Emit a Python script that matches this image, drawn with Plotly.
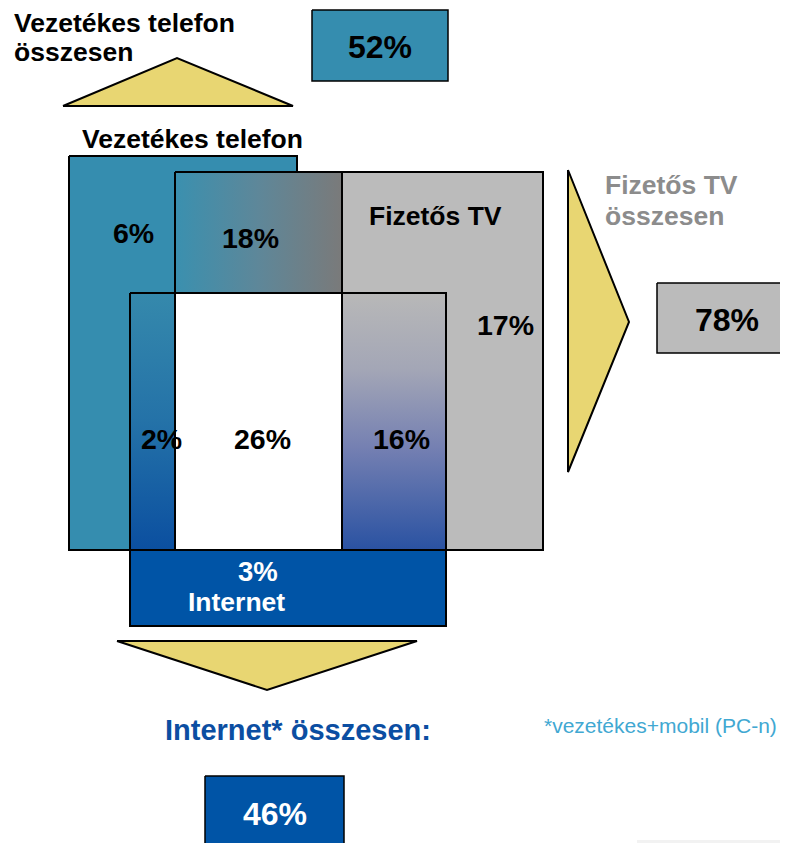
import plotly.graph_objects as go

# --- data: shares of households (%) ---
segment_values = [6, 18, 17, 2, 26, 16, 3]   # phone only, phone+TV, TV only, phone+net, all three, TV+net, net only
total_values = [52, 78, 46]                    # phone total, pay-TV total, internet total
group_names = ["Vezetékes telefon", "Fizetős TV", "Internet"]
total_titles = ["Vezetékes telefon", "összesen", "Fizetős TV", "összesen", "Internet* összesen:"]
footnote = "*vezetékes+mobil (PC-n)"

FONT = "Liberation Sans, Arial, sans-serif"
TEAL = "#358DAF"
GREY = "#BBBBBB"
BLUE = "#0054A6"
YELLOW = "#E8D672"

fig = go.Figure()


def poly(xs, ys, fill, line_w=2, gradient=None):
    kw = dict(x=xs, y=ys, mode="lines", fill="toself",
              line=dict(color="black", width=line_w),
              hoverinfo="skip", showlegend=False)
    if gradient is not None:
        kw["fillgradient"] = gradient
    else:
        kw["fillcolor"] = fill
    fig.add_trace(go.Scatter(**kw))


def rect(x0, y0, x1, y1, fill, **kw):
    poly([x0, x1, x1, x0, x0], [y0, y0, y1, y1, y0], fill, **kw)


# big rectangles
rect(69, 156, 297, 550, TEAL)           # phone
rect(175, 172, 543, 550, GREY)          # pay TV
# phone + TV overlap (horizontal fade)
rect(175, 172, 342, 293, None,
     gradient=dict(type="horizontal", start=175, stop=342,
                   colorscale=[[0, "#3A90AF"], [0.5, "#5E8799"], [1, "#7A7A7A"]]))
# internet pieces
rect(130, 293, 175, 550, None,
     gradient=dict(type="vertical", start=293, stop=550,
                   colorscale=[[0, "#3589AC"], [0.5, "#2472A8"], [1, "#0B4FA0"]]))
rect(175, 293, 342, 550, "white")
rect(342, 293, 446, 550, None,
     gradient=dict(type="vertical", start=293, stop=550,
                   colorscale=[[0, "#B8B8B8"], [0.3, "#A3A6B6"], [0.6, "#7580B2"], [1, "#2A52A2"]]))
rect(130, 550, 446, 626, BLUE)

# arrows
poly([63, 177, 293, 63], [106, 58, 106, 106], YELLOW)
poly([568, 629, 568, 568], [170, 322, 472, 170], YELLOW)
poly([117, 417, 267, 117], [641, 641, 690, 641], YELLOW)

# total boxes
rect(312, 10, 448, 81, TEAL, line_w=1.5)
rect(657, 283, 800, 353, GREY, line_w=1.5)
rect(205, 776, 344, 860, BLUE, line_w=1.5)
rect(637, 840, 800, 860, "#F2F2F2", line_w=0)


def label(x, y, text, size, color="black", bold=True, xanchor="center"):
    fig.add_annotation(x=x, y=y, text=text, showarrow=False, xanchor=xanchor, yanchor="middle",
                       font=dict(family=FONT, size=size, color=color,
                                 weight="bold" if bold else "normal"))


pct = [f"{v}%" for v in segment_values]
label(133, 233, pct[0], 28.5)
label(250, 238, pct[1], 28.5)
label(505, 325, pct[2], 28.5)
label(161, 439, pct[3], 28.5)
label(262, 439, pct[4], 28.5)
label(401, 439, pct[5], 28.5)
label(258, 571, pct[6], 27.5, color="white")

label(192, 139, group_names[0], 26.5)
label(435, 216, group_names[1], 26.5)
label(236, 602, group_names[2], 26.5, color="white")

tot = [f"{v}%" for v in total_values]
label(380, 47, tot[0], 32)
label(727, 320, tot[1], 32)
label(275, 814, tot[2], 32, color="white")

label(12, 23, total_titles[0], 26.5, xanchor="left")
label(12, 52, total_titles[1], 26.5, xanchor="left")
label(603, 185, total_titles[2], 26.5, color="#8C8C8C", xanchor="left")
label(603, 216, total_titles[3], 26.5, color="#8C8C8C", xanchor="left")
label(298, 730, total_titles[4], 29, color="#0B4EA2")
label(660, 725, footnote, 21, color="#41A8D2", bold=False)

# the page body has an 8px margin; shift the axis window so drawing
# coordinates equal page pixels of the 788x843 window
fig.update_layout(
    width=780, height=835,
    margin=dict(l=0, r=0, t=0, b=0),
    paper_bgcolor="white", plot_bgcolor="white",
    xaxis=dict(range=[8, 788], visible=False, fixedrange=True),
    yaxis=dict(range=[843, 8], visible=False, fixedrange=True),
    showlegend=False,
)

fig.write_html("out.html")
